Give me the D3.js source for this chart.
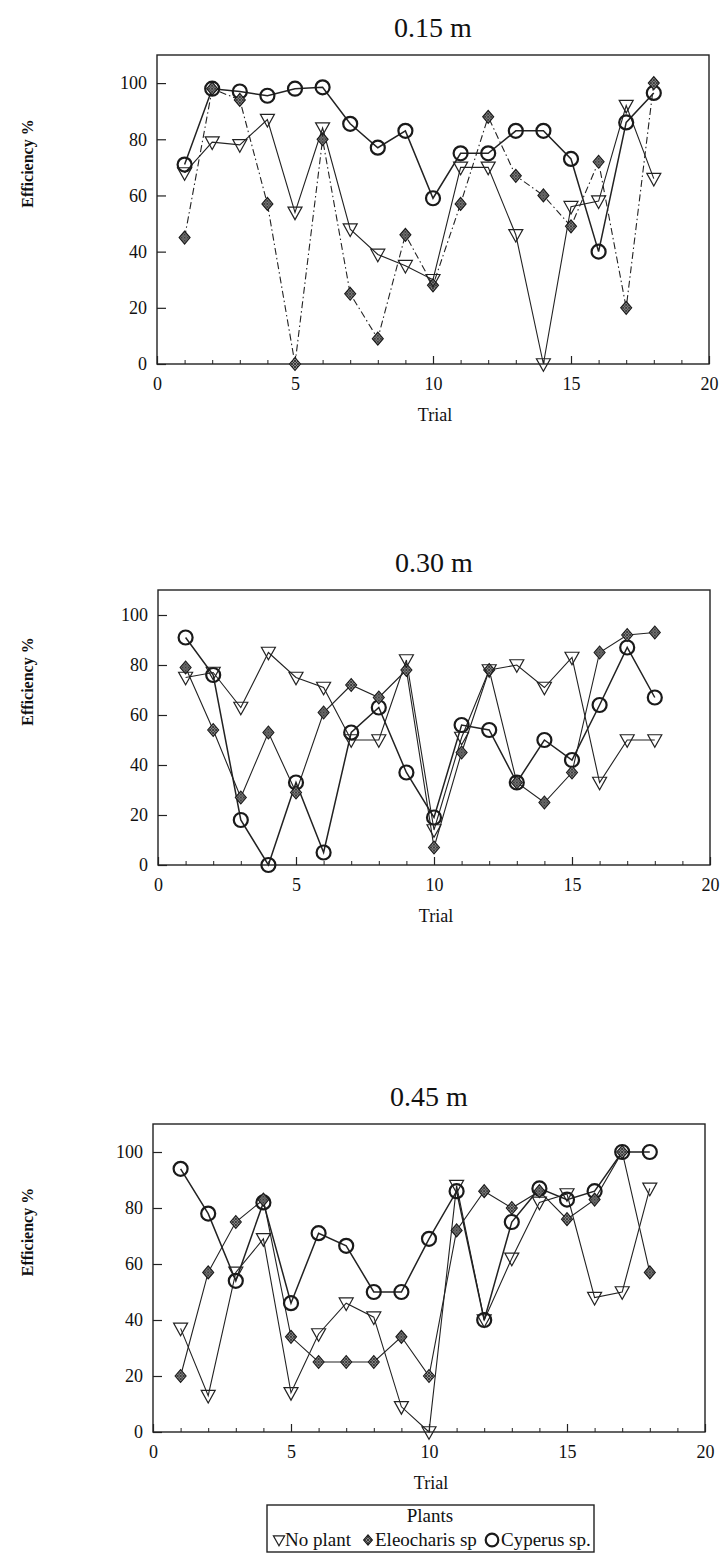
<!DOCTYPE html>
<html>
<head>
<meta charset="utf-8">
<script src="https://cdn.jsdelivr.net/npm/d3@7/dist/d3.min.js"></script>
<style>
  html, body { margin: 0; padding: 0; background: #fff; }
  svg { display: block; }
  text { font-family: "Liberation Serif", "Times New Roman", serif; fill: #111; }
</style>
</head>
<body>
<svg id="chart" width="721" height="1555"></svg>
<script>
// ---------------- DATA ----------------
const trials = [1,2,3,4,5,6,7,8,9,10,11,12,13,14,15,16,17,18];
const xTicks = [0,5,10,15,20];
const yTicks = [0,20,40,60,80,100];
const panelTitles = ["0.15 m", "0.30 m", "0.45 m"];
const seriesNames = ["No plant", "Eleocharis sp", "Cyperus sp."];
const legendTitle = "Plants";
const xLabel = "Trial";
const yLabel = "Efficiency %";

// 0.15 m
const noPlant015 = [68,79,78,87,54,84,48,39,35,30,70,70,46,0,56,58,92,66];
const eleo015    = [45,98,94,57,0,80,25,9,46,28,57,88,67,60,49,72,20,100];
const cyp015     = [71,98,97,95.5,98,98.5,85.5,77,83,59,75,75,83,83,73,40,86,96.5];
// 0.30 m
const noPlant030 = [75,77,63,85,75,71,50,50,82,14,51,78,80,71,83,33,50,50];
const eleo030    = [79,54,27,53,29,61,72,67,78,7,45,78,33,25,37,85,92,93];
const cyp030     = [91,76,18,0,33,5,53,63,37,19,56,54,33,50,42,64,87,67];
// 0.45 m
const noPlant045 = [37,13,57,69,14,35,46,41,9,0,88,40,62,82,85,48,50,87];
const eleo045    = [20,57,75,83,34,25,25,25,34,20,72,86,80,86,76,83,100,57];
const cyp045     = [94,78,54,82,46,71,66.5,50,50,69,86,40,75,87,83,86,100,100];

const panelData = [
  [noPlant015, eleo015, cyp015],
  [noPlant030, eleo030, cyp030],
  [noPlant045, eleo045, cyp045]
];

// ---------------- LAYOUT ----------------
const layouts = [
  {left:157, right:709, bottom:364, top:55,  dashEleo:true},
  {left:158, right:710, bottom:865, top:590, dashEleo:false},
  {left:153, right:705, bottom:1432, top:1124, dashEleo:false}
];

const svg = d3.select("#chart");

// hatched fill for diamonds
const defs = svg.append("defs");
const pat = defs.append("pattern").attr("id","hatch")
  .attr("width",3).attr("height",3).attr("patternUnits","userSpaceOnUse");
pat.append("rect").attr("width",3).attr("height",3).attr("fill","#8a8a8a");
pat.append("path").attr("d","M0,0L3,3M3,0L0,3").attr("stroke","#2a2a2a").attr("stroke-width",0.8);

function triPath(s){ // downward triangle, centred
  return `M${-s},${-s*0.75}L${s},${-s*0.75}L0,${s*1.05}Z`;
}
function diaPath(w,h){ return `M0,${-h}L${w},0L0,${h}L${-w},0Z`; }

function drawMarker(g, type, cx, cy, scale){
  scale = scale || 1;
  if(type===0){
    g.append("path").attr("transform",`translate(${cx},${cy})`)
      .attr("d",triPath(7*scale)).attr("fill","none").attr("stroke","#222").attr("stroke-width",1.2);
  } else if(type===1){
    g.append("path").attr("transform",`translate(${cx},${cy})`)
      .attr("d",diaPath(5.5*scale,6.5*scale)).attr("fill","url(#hatch)").attr("stroke","#1a1a1a").attr("stroke-width",1.1);
  } else {
    g.append("circle").attr("cx",cx).attr("cy",cy).attr("r",7*scale)
      .attr("fill","none").attr("stroke","#1a1a1a").attr("stroke-width",2.2);
  }
}

layouts.forEach((L, pi) => {
  const x = d3.scaleLinear().domain([0,20]).range([L.left, L.right]);
  const y = d3.scaleLinear().domain([0,110]).range([L.bottom, L.top]);
  const g = svg.append("g");

  // title
  g.append("text").attr("x",(L.left+L.right)/2).attr("y",L.top-18)
    .attr("text-anchor","middle").attr("font-size",28).text(panelTitles[pi]);

  // frame
  g.append("rect").attr("x",L.left).attr("y",L.top)
    .attr("width",L.right-L.left).attr("height",L.bottom-L.top)
    .attr("fill","none").attr("stroke","#222").attr("stroke-width",1.4);

  // x axis (major ticks inward, minor at each trial)
  const xAxis = d3.axisBottom(x).tickValues(xTicks).tickSize(-8).tickPadding(13).tickFormat(d3.format("d"));
  const xa = g.append("g").attr("transform",`translate(0,${L.bottom})`).call(xAxis);
  xa.select(".domain").remove();
  xa.selectAll(".tick line").attr("stroke","#222").attr("stroke-width",1.2);
  xa.selectAll(".tick text").attr("font-size",18).attr("font-family","Liberation Serif").attr("fill","#111");
  const xMinor = d3.axisBottom(x).tickValues(d3.range(0,21)).tickSize(-4).tickFormat("");
  const xm = g.append("g").attr("transform",`translate(0,${L.bottom})`).call(xMinor);
  xm.select(".domain").remove();
  xm.selectAll(".tick line").attr("stroke","#222").attr("stroke-width",1);

  // y axis
  const yAxis = d3.axisLeft(y).tickValues(yTicks).tickSize(-9).tickPadding(10).tickFormat(d3.format("d"));
  const ya = g.append("g").attr("transform",`translate(${L.left},0)`).call(yAxis);
  ya.select(".domain").remove();
  ya.selectAll(".tick line").attr("stroke","#222").attr("stroke-width",1.2);
  ya.selectAll(".tick text").attr("font-size",18).attr("font-family","Liberation Serif").attr("fill","#111");

  // axis titles
  g.append("text").attr("x",L.left+ (L.right-L.left)/2 + 2).attr("y",L.bottom+57)
    .attr("text-anchor","middle").attr("font-size",18).text(xLabel);
  const cyLab = (L.top+L.bottom)/2 - 46;
  g.append("text").attr("transform",`translate(33,${cyLab}) rotate(-90)`)
    .attr("text-anchor","middle").attr("font-size",16).attr("font-weight","bold").text(yLabel);

  // lines
  const data = panelData[pi];
  const line = d3.line().x((d,i)=>x(trials[i])).y(d=>y(d));
  const order = [2,1,0];
  order.forEach(si => {
    const p = g.append("path").datum(data[si]).attr("d",line)
      .attr("fill","none").attr("stroke","#222")
      .attr("stroke-width", si===2 ? 1.5 : 1.1);
    if(si===1 && L.dashEleo) p.attr("stroke-dasharray","7,3,1.5,3");
  });
  // markers
  order.forEach(si => {
    data[si].forEach((v,i) => drawMarker(g, si, x(trials[i]), y(v)));
  });
});

// ---------------- LEGEND ----------------
const lg = svg.append("g");
lg.append("rect").attr("x",267).attr("y",1505).attr("width",327).attr("height",47)
  .attr("fill","none").attr("stroke","#222").attr("stroke-width",1.4);
lg.append("text").attr("x",430).attr("y",1522).attr("text-anchor","middle").attr("font-size",19).text(legendTitle);
const legItems = [
  {type:0, mx:279, tx:285},
  {type:1, mx:368, tx:375},
  {type:2, mx:492, tx:501}
];
legItems.forEach((it, i) => {
  drawMarker(lg, it.type, it.mx, 1540, it.type===2 ? 0.9 : 0.8);
  lg.append("text").attr("x",it.tx).attr("y",1546).attr("font-size",19).text(seriesNames[i]);
});
</script>
</body>
</html>
